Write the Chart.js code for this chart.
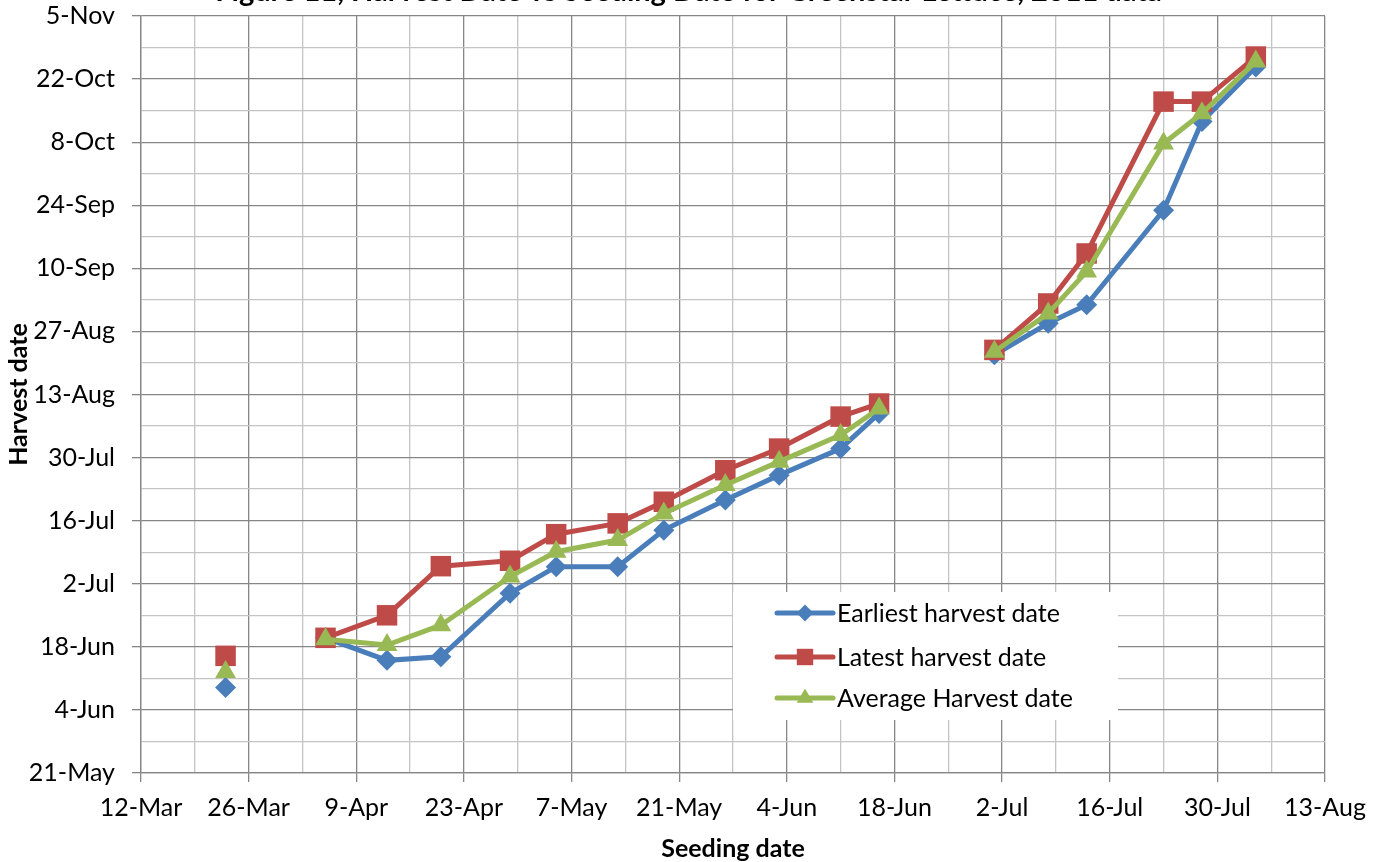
<!DOCTYPE html>
<html>
<head>
<meta charset="utf-8">
<script src="https://cdn.jsdelivr.net/npm/chart.js@4.4.1/dist/chart.umd.min.js"></script>
<style>
    html, body { margin: 0; padding: 0; background: #fff; overflow: hidden; }
    #wrap { position: absolute; left: 0; top: -30px; width: 1377px; height: 892px; }
</style>
</head>
<body>
<div id="wrap"><canvas id="chart" width="1377" height="892"></canvas></div>
<script>
// --- Data (month/day, fractional days allowed), 2011 season ---
const seedDates = ['3/23', null, '4/5', '4/13', '4/20', '4/29', '5/5', '5/13', '5/19', '5/27', '6/3', '6/11', '6/16', null, '7/1', '7/8', '7/13', '7/23', '7/28', '8/4'];
const earliestHarvest = ['6/9', null, '6/20', '6/15', '6/15.8', '6/29.9', '7/5.8', '7/5.8', '7/13.9', '7/20.6', '7/26.1', '8/1', '8/8.8', null, '8/21.8', '8/28.8', '9/1.9', '9/22.9', '10/12.6', '10/24.7'];
const latestHarvest = ['6/16', null, '6/20', '6/25', '7/5.9', '7/7.1', '7/13', '7/15.4', '7/20.2', '7/27.2', '8/1', '8/8.1', '8/11', null, '8/22.9', '9/2.2', '9/13.3', '10/17', '10/17', '10/27'];
const averageHarvest = ['6/12.4', null, '6/19.7', '6/18.4', '6/22.8', '7/3.6', '7/9.1', '7/11.7', '7/17.6', '7/23.9', '7/29.1', '8/4', '8/9.9', null, '8/22.5', '8/31', '9/9.3', '10/7.7', '10/14.4', '10/25.9'];

const seriesNames = ['Earliest harvest date', 'Latest harvest date', 'Average Harvest date'];
const xTickLabels = ['12-Mar', '26-Mar', '9-Apr', '23-Apr', '7-May', '21-May', '4-Jun', '18-Jun', '2-Jul', '16-Jul', '30-Jul', '13-Aug'];
const yTickLabels = ['21-May', '4-Jun', '18-Jun', '2-Jul', '16-Jul', '30-Jul', '13-Aug', '27-Aug', '10-Sep', '24-Sep', '8-Oct', '22-Oct', '5-Nov'];

const YEAR = 2011;
const MONTHS = ['Jan', 'Feb', 'Mar', 'Apr', 'May', 'Jun', 'Jul', 'Aug', 'Sep', 'Oct', 'Nov', 'Dec'];
const FONT = 'Lato, "Open Sans", sans-serif';

// day number (days since epoch) from "m/d"
function mdToDay(s) {
    if (s === null) return null;
    const [m, d] = s.split('/').map(Number);
    return Date.UTC(YEAR, m - 1, 1) / 864e5 + d - 1;
}
// day number from "d-Mon"
function labelToDay(s) {
    const [d, mon] = s.split('-');
    return Date.UTC(YEAR, MONTHS.indexOf(mon), 1) / 864e5 + Number(d) - 1;
}
// major ticks every 14 days, minor ones halfway
function tickValues(labels) {
    const out = [];
    labels.forEach((l, i) => {
        const v = labelToDay(l);
        out.push({ value: v });
        if (i < labels.length - 1) out.push({ value: v + 7 });
    });
    return out;
}
function points(values) {
    return seedDates.map((s, i) => ({ x: mdToDay(s), y: mdToDay(values[i]) }));
}

const colors = ['#4A7EBB', '#BE4B48', '#98B954'];
const styles = [
    { pointStyle: 'rectRot', radius: 10.5 },
    { pointStyle: 'rect', radius: 14.5 },
    { pointStyle: 'triangle', radius: 12 }
];
const valueSets = [earliestHarvest, latestHarvest, averageHarvest];

const datasets = valueSets.map((vals, i) => ({
    label: seriesNames[i],
    data: points(vals),
    borderColor: colors[i],
    backgroundColor: colors[i],
    borderWidth: 5,
    pointStyle: styles[i].pointStyle,
    pointRadius: styles[i].radius,
    pointHoverRadius: styles[i].radius,
    pointBorderWidth: 0,
    pointBackgroundColor: colors[i],
    tension: 0,
    spanGaps: false,
    order: 3 - i
}));

const MAJOR = '#868686';
const MINOR = '#c4c4c4';

// legend box drawn inside the plot, like the Excel one
const boxLegend = {
    id: 'boxLegend',
    afterDraw(chart) {
        const ctx = chart.ctx;
        const ca = chart.chartArea;
        const bx = ca.left + 592, by = ca.top + 576, bw = 385, bh = 128;
        ctx.save();
        ctx.fillStyle = '#fff';
        ctx.fillRect(bx, by, bw, bh);
        const rows = [21, 65, 106];
        ctx.font = '25px ' + FONT;
        ctx.textBaseline = 'middle';
        chart.data.datasets.forEach((ds, i) => {
            const y = by + rows[i];
            const x0 = bx + 44, x1 = bx + 100;
            ctx.strokeStyle = ds.borderColor;
            ctx.lineWidth = 5;
            ctx.lineCap = 'round';
            ctx.beginPath();
            ctx.moveTo(x0, y);
            ctx.lineTo(x1, y);
            ctx.stroke();
            ctx.fillStyle = ds.borderColor;
            Chart.helpers.drawPoint(ctx, { pointStyle: ds.pointStyle, radius: ds.pointRadius * 0.8, borderWidth: 0, rotation: 0 }, (x0 + x1) / 2, y);
            ctx.fillStyle = '#000';
            ctx.fillText(ds.label, bx + 104, y + 1);
        });
        ctx.restore();
    }
};

const xTicks = tickValues(xTickLabels);
const yTicks = tickValues(yTickLabels);

new Chart(document.getElementById('chart'), {
    type: 'line',
    data: { datasets },
    plugins: [boxLegend],
    options: {
        responsive: false,
        animation: false,
        plugins: {
            legend: { display: false },
            tooltip: { enabled: false },
            title: {
                display: true,
                text: 'Figure 11, Harvest Date vs Seeding Date for Greenstar Lettuce, 2011 data',
                color: '#000',
                font: { family: FONT, size: 29, weight: 'bold', lineHeight: 1 },
                padding: { top: 7.5, bottom: 9.5 }
            }
        },
        scales: {
            x: {
                type: 'linear',
                min: labelToDay(xTickLabels[0]),
                max: labelToDay(xTickLabels[xTickLabels.length - 1]),
                afterBuildTicks: s => { s.ticks = xTicks.map(t => ({ ...t })); },
                afterFit: s => { s.height = 89; s.paddingRight = 52; },
                ticks: {
                    autoSkip: false,
                    maxRotation: 0,
                    padding: 11,
                    color: '#000',
                    font: { family: FONT, size: 25 },
                    callback: (v, i) => (i % 2 === 0 ? xTickLabels[i / 2] : '')
                },
                grid: {
                    color: c => (c.index % 2 === 0 ? MAJOR : MINOR),
                    tickColor: c => (c.index % 2 === 0 ? MAJOR : 'rgba(0,0,0,0)'),
                    tickLength: 9,
                    lineWidth: 1.3
                },
                border: { color: MAJOR, width: 1.3 },
                title: {
                    display: true,
                    text: 'Seeding date',
                    color: '#000',
                    font: { family: FONT, size: 25, weight: 'bold', lineHeight: 1 },
                    padding: { top: 0, bottom: 1 }
                }
            },
            y: {
                type: 'linear',
                min: labelToDay(yTickLabels[0]),
                max: labelToDay(yTickLabels[yTickLabels.length - 1]),
                afterBuildTicks: s => { s.ticks = yTicks.map(t => ({ ...t })); },
                afterFit: s => { s.width = 141; },
                ticks: {
                    autoSkip: false,
                    padding: 17,
                    color: '#000',
                    font: { family: FONT, size: 25 },
                    callback: (v, i) => (i % 2 === 0 ? yTickLabels[i / 2] : '')
                },
                grid: {
                    color: c => (c.index % 2 === 0 ? MAJOR : MINOR),
                    tickColor: c => (c.index % 2 === 0 ? MAJOR : 'rgba(0,0,0,0)'),
                    tickLength: 9,
                    lineWidth: 1.3
                },
                border: { color: MAJOR, width: 1.3 },
                title: {
                    display: true,
                    text: 'Harvest date',
                    color: '#000',
                    font: { family: FONT, size: 25, weight: 'bold', lineHeight: 1 },
                    padding: { top: 6, bottom: 0 }
                }
            }
        }
    }
});
</script>
</body>
</html>
